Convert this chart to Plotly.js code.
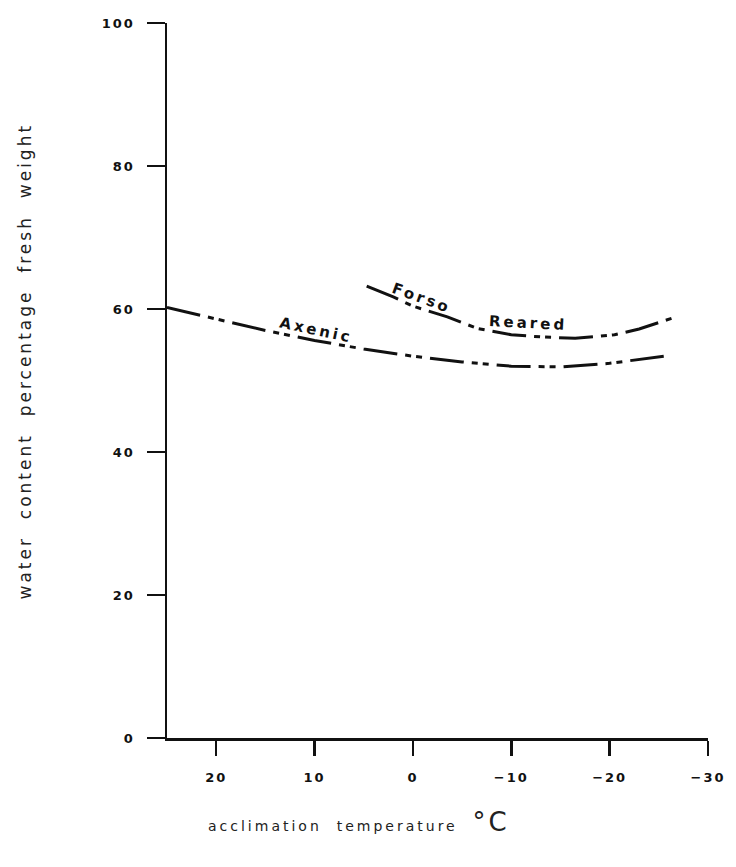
<!DOCTYPE html>
<html>
<head>
<meta charset="utf-8">
<script src="https://cdn.plot.ly/plotly-3.0.1.min.js"></script>
<style>
  html, body { margin: 0; padding: 0; background: #ffffff; }
  #chart { width: 736px; height: 867px; }
  .xtick text, .ytick text { letter-spacing: 2px; }
  .annotation-text { letter-spacing: 3px; }
</style>
</head>
<body>
<div id="chart"></div>
<script>
// Water content (% of fresh weight) against acclimation temperature (°C)
const axenicTemp   = [25, 20, 15, 10, 5, 0, -5, -10, -15, -20, -25.5];
const axenicWater  = [60.2, 58.6, 57.0, 55.6, 54.4, 53.4, 52.6, 52.0, 51.9, 52.4, 53.4];

const rearedTemp   = [4.7, 2, 0, -3.5, -6.5, -10, -13, -16.5, -20.5, -23, -26.3];
const rearedWater  = [63.2, 61.7, 60.4, 58.9, 57.3, 56.4, 56.1, 55.9, 56.4, 57.2, 58.7];

const xTickVals = [20, 10, 0, -10, -20, -30];
const xTickText = ['20', '10', '0', '\u221210', '\u221220', '\u221230'];
const yTickVals = [0, 20, 40, 60, 80, 100];
const yTickText = ['0', '20', '40', '60', '80', '100'];

const lineStyle = { color: '#111111', width: 3, dash: '34px,8px,6px,5px,6px,8px' };

const traces = [
  { x: axenicTemp, y: axenicWater, mode: 'lines', line: lineStyle, name: 'Axenic',
    hoverinfo: 'skip', showlegend: false },
  { x: rearedTemp, y: rearedWater, mode: 'lines', line: lineStyle, name: 'Forso Reared',
    hoverinfo: 'skip', showlegend: false }
];

const tickFont = { family: 'DejaVu Sans', size: 13, color: '#111111', weight: 'bold' };
const labelFont = { family: 'DejaVu Sans', size: 15, color: '#111111', weight: 'bold' };
const yTitleFont = { family: 'DejaVu Sans', size: 17, color: '#222222' };
const xTitleFont = { family: 'DejaVu Sans', size: 14, color: '#222222' };

const layout = {
  width: 736,
  height: 867,
  margin: { l: 167, r: 28, t: 23, b: 129 },
  paper_bgcolor: '#ffffff',
  plot_bgcolor: '#ffffff',
  showlegend: false,
  xaxis: {
    range: [25, -30],
    tickvals: xTickVals,
    ticktext: xTickText,
    ticks: 'outside',
    ticklen: 15,
    tickwidth: 2.5,
    tickcolor: '#111111',
    ticklabelstandoff: 11,
    showline: true,
    linewidth: 2.5,
    linecolor: '#111111',
    showgrid: false,
    zeroline: false,
    tickfont: tickFont
  },
  yaxis: {
    range: [0, 100],
    tickvals: yTickVals,
    ticktext: yTickText,
    ticks: 'outside',
    ticklen: 18,
    tickwidth: 2.5,
    tickcolor: '#111111',
    ticklabelstandoff: 9,
    showline: true,
    linewidth: 2.5,
    linecolor: '#111111',
    showgrid: false,
    zeroline: false,
    tickfont: tickFont
  },
  annotations: [
    { x: 9.9, y: 57.0, xref: 'x', yref: 'y', text: 'Axenic', showarrow: false,
      textangle: 12, font: labelFont },
    { x: -0.9, y: 61.6, xref: 'x', yref: 'y', text: 'Forso', showarrow: false,
      textangle: 20, font: labelFont },
    { x: -11.7, y: 58.0, xref: 'x', yref: 'y', text: 'Reared', showarrow: false,
      textangle: 3, font: labelFont },
    { x: -0.262, y: 0.527, xref: 'paper', yref: 'paper', xanchor: 'center', yanchor: 'middle',
      text: 'water  content  percentage  fresh  weight', textangle: -90,
      showarrow: false, font: yTitleFont },
    { x: 0.355, y: -0.118, xref: 'paper', yref: 'paper', xanchor: 'center', yanchor: 'middle',
      text: 'acclimation  temperature  <span style="font-size:26px">\u00b0C</span>',
      showarrow: false, font: xTitleFont }
  ]
};

Plotly.newPlot('chart', traces, layout, { displayModeBar: false, staticPlot: true });
</script>
</body>
</html>
